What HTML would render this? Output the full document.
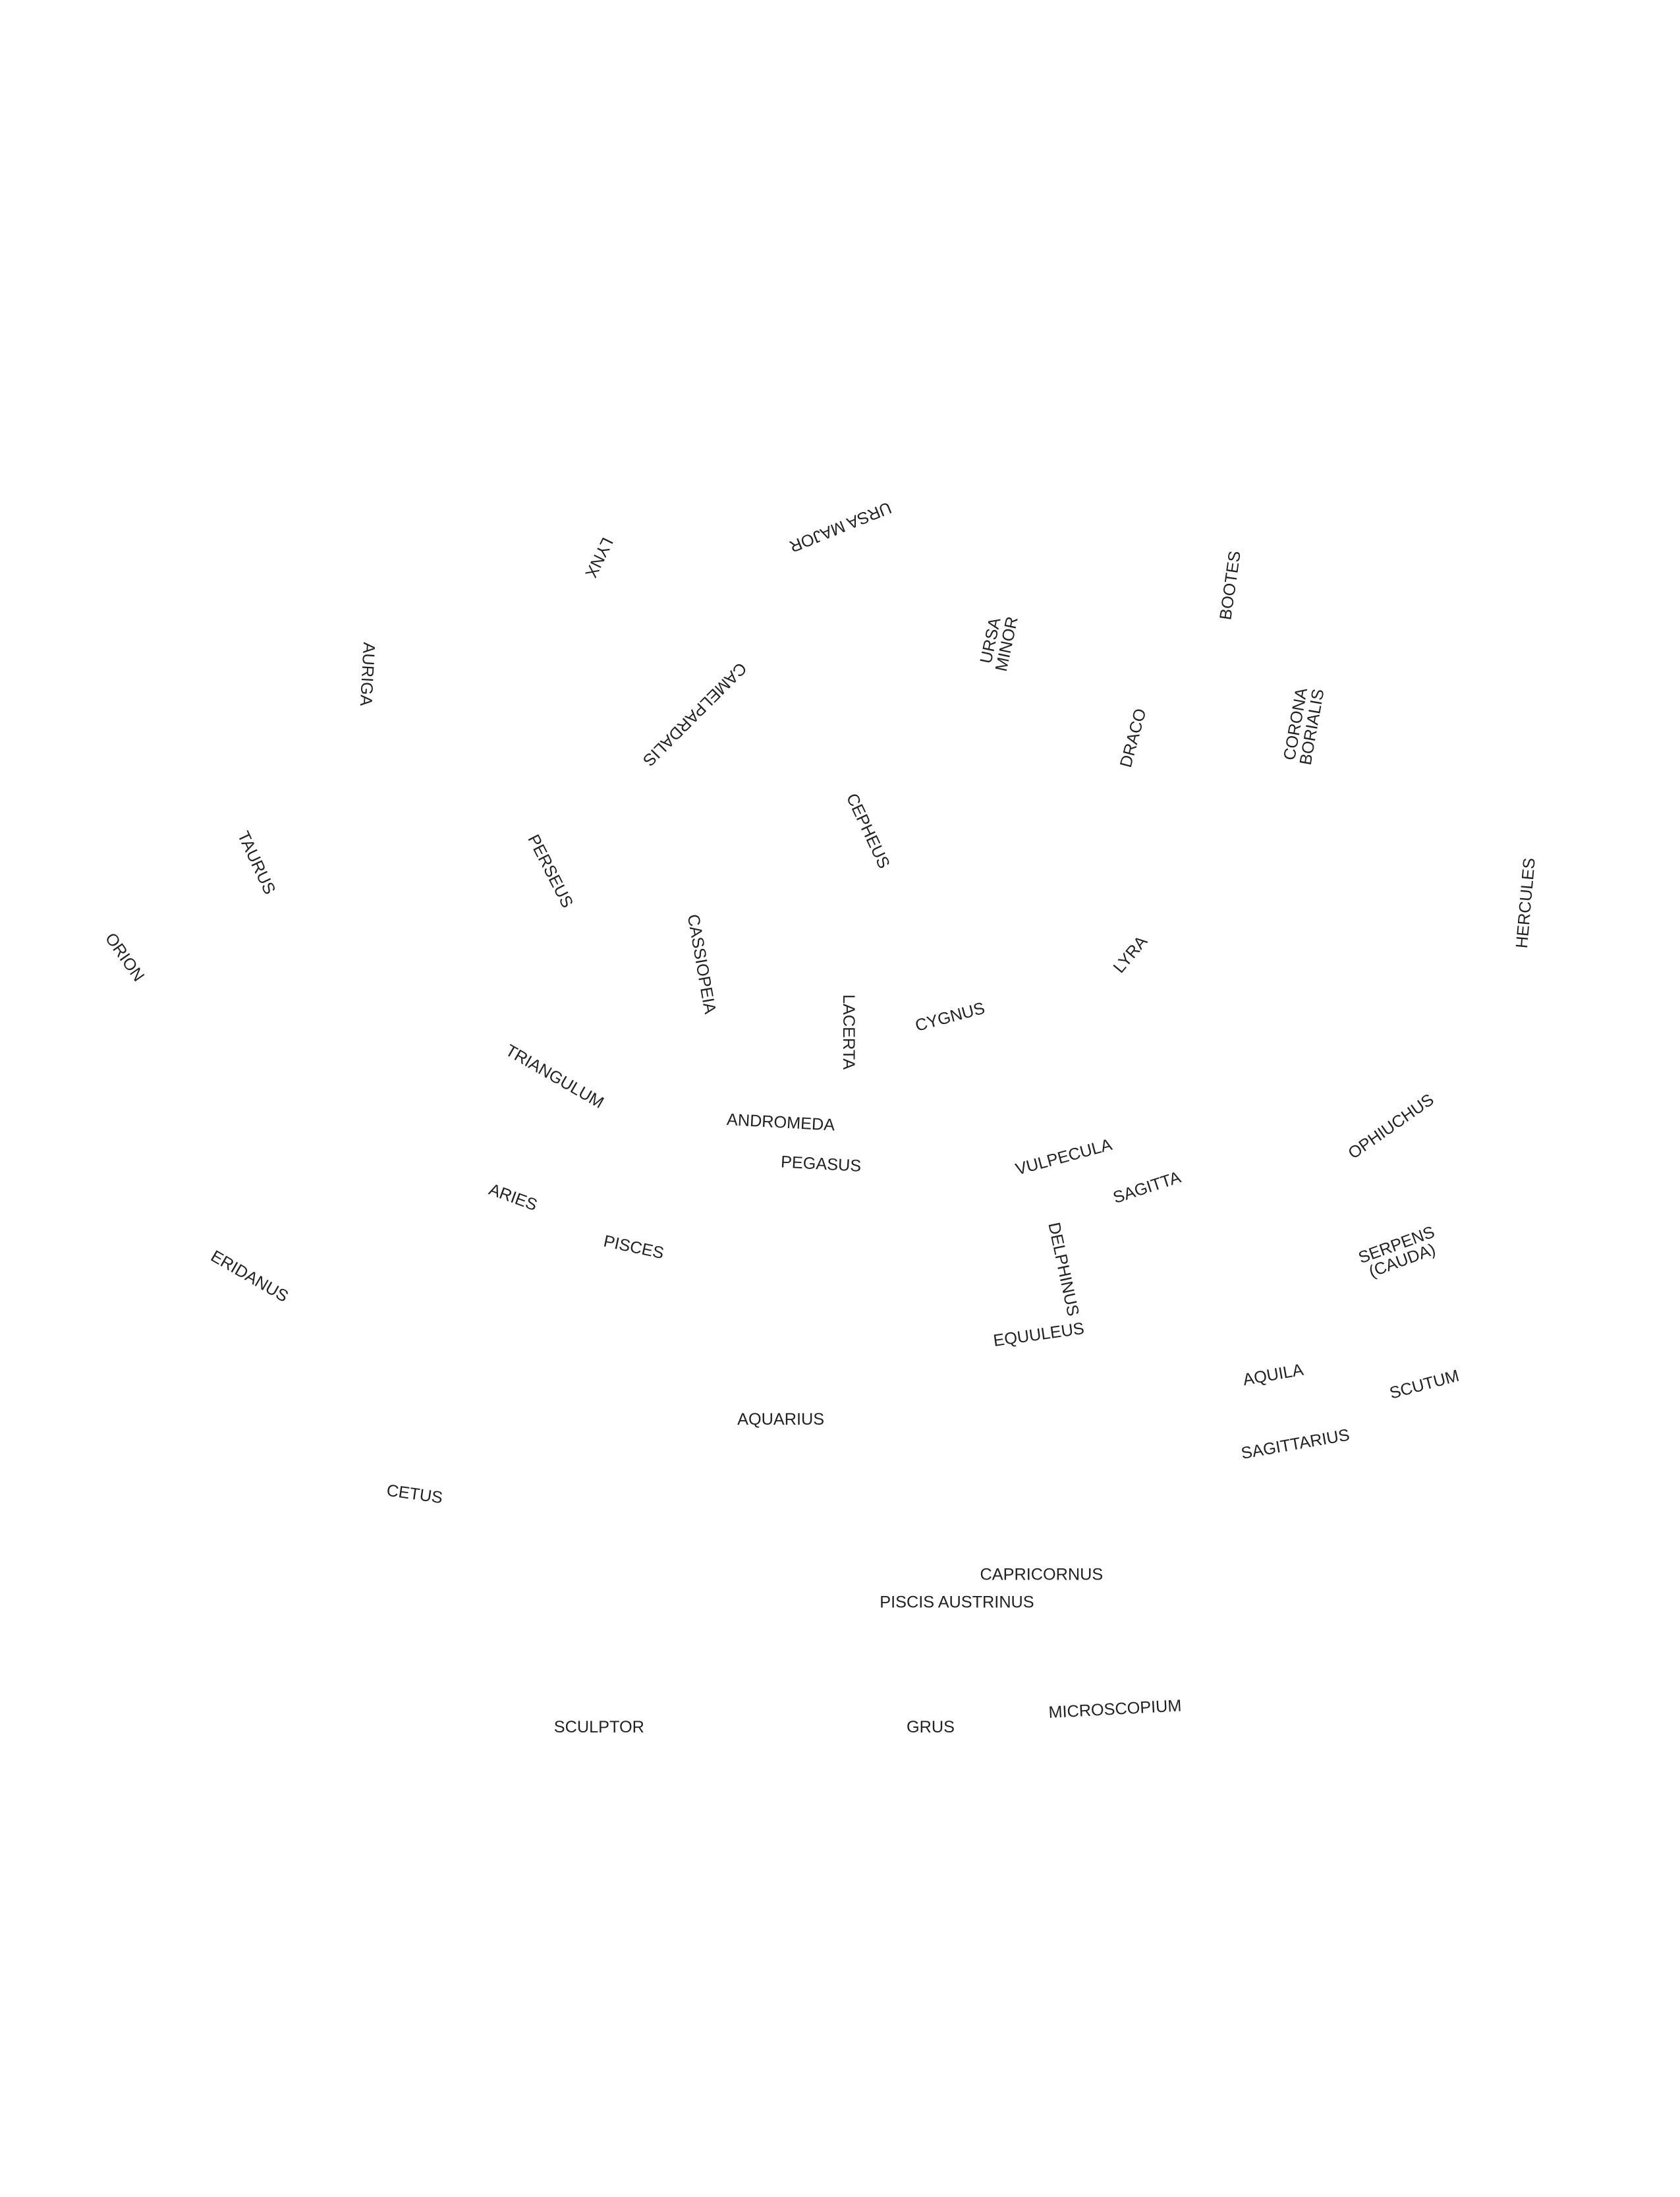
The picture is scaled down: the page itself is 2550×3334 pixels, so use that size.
<!DOCTYPE html>
<html><head><meta charset="utf-8"><style>
html,body{margin:0;padding:0;background:#fff;}
body{width:2550px;height:3300px;overflow:hidden;position:relative;}
#c{position:absolute;left:0;top:0;width:1224px;height:1584px;transform:scale(2.105);transform-origin:0 0;}
.t{position:absolute;font-family:"Liberation Sans",sans-serif;font-size:12px;color:#222;white-space:nowrap;text-align:center;line-height:12px;transform:translate(-50%,-50%) rotate(var(--r));}
</style></head><body><div id="c">
<div class="t" style="left:606px;top:380px;--r:158deg">URSA MAJOR</div>
<div class="t" style="left:432px;top:402px;--r:116deg">LYNX</div>
<div class="t" style="left:265px;top:486px;--r:93deg">AURIGA</div>
<div class="t" style="left:501px;top:515px;--r:135deg">CAMELPARDALIS</div>
<div class="t" style="left:720px;top:463px;--r:-78deg">URSA<br>MINOR</div>
<div class="t" style="left:887px;top:422px;--r:-82deg">BOOTES</div>
<div class="t" style="left:817px;top:532px;--r:-75deg">DRACO</div>
<div class="t" style="left:940px;top:523px;--r:-80deg">CORONA<br>BORIALIS</div>
<div class="t" style="left:626px;top:599px;--r:65deg">CEPHEUS</div>
<div class="t" style="left:185px;top:622px;--r:65deg">TAURUS</div>
<div class="t" style="left:397px;top:628px;--r:63deg">PERSEUS</div>
<div class="t" style="left:90px;top:690px;--r:55deg">ORION</div>
<div class="t" style="left:506px;top:695px;--r:80deg">CASSIOPEIA</div>
<div class="t" style="left:1100px;top:651px;--r:-85deg">HERCULES</div>
<div class="t" style="left:815px;top:688px;--r:-50deg">LYRA</div>
<div class="t" style="left:612px;top:744px;--r:90deg">LACERTA</div>
<div class="t" style="left:685px;top:733px;--r:-15deg">CYGNUS</div>
<div class="t" style="left:400px;top:776px;--r:30deg">TRIANGULUM</div>
<div class="t" style="left:563px;top:809px;--r:3deg">ANDROMEDA</div>
<div class="t" style="left:592px;top:839px;--r:3deg">PEGASUS</div>
<div class="t" style="left:767px;top:834px;--r:-15deg">VULPECULA</div>
<div class="t" style="left:1003px;top:812px;--r:-35deg">OPHIUCHUS</div>
<div class="t" style="left:827px;top:856px;--r:-18deg">SAGITTA</div>
<div class="t" style="left:370px;top:863px;--r:20deg">ARIES</div>
<div class="t" style="left:457px;top:899px;--r:12deg">PISCES</div>
<div class="t" style="left:767px;top:915px;--r:78deg">DELPHINUS</div>
<div class="t" style="left:1009px;top:903px;--r:-20deg">SERPENS<br>(CAUDA)</div>
<div class="t" style="left:180px;top:920px;--r:30deg">ERIDANUS</div>
<div class="t" style="left:749px;top:962px;--r:-8deg">EQUULEUS</div>
<div class="t" style="left:918px;top:991px;--r:-10deg">AQUILA</div>
<div class="t" style="left:1027px;top:998px;--r:-15deg">SCUTUM</div>
<div class="t" style="left:934px;top:1041px;--r:-10deg">SAGITTARIUS</div>
<div class="t" style="left:563px;top:1023px;--r:0deg">AQUARIUS</div>
<div class="t" style="left:299px;top:1077px;--r:8deg">CETUS</div>
<div class="t" style="left:751px;top:1135px;--r:0deg">CAPRICORNUS</div>
<div class="t" style="left:690px;top:1155px;--r:0deg">PISCIS AUSTRINUS</div>
<div class="t" style="left:432px;top:1245px;--r:0deg">SCULPTOR</div>
<div class="t" style="left:671px;top:1245px;--r:0deg">GRUS</div>
<div class="t" style="left:804px;top:1232px;--r:-3deg">MICROSCOPIUM</div>
</div></body></html>
